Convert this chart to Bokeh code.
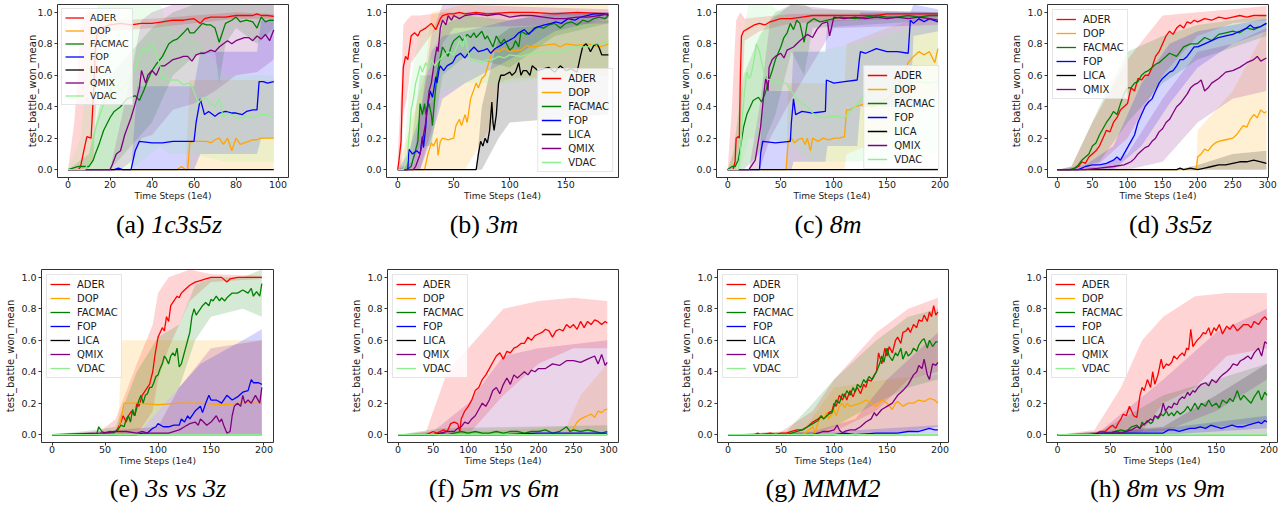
from bokeh.plotting import figure
from bokeh.layouts import row, column
from bokeh.models import Div, FixedTicker, PrintfTickFormatter, Legend, LegendItem, Range1d
from bokeh.embed import file_html
from bokeh.resources import INLINE

NAMES = ["ADER", "DOP", "FACMAC", "FOP", "LICA", "QMIX", "VDAC"]
COLORS = {"ADER": "#ff0000", "DOP": "#ffa500", "FACMAC": "#008000", "FOP": "#0000ff",
          "LICA": "#000000", "QMIX": "#800080", "VDAC": "#90ee90"}
Y_TICKS = [0.0, 0.2, 0.4, 0.6, 0.8, 1.0]
CAP_LETTERS = ["(a)", "(b)", "(c)", "(d)", "(e)", "(f)", "(g)", "(h)"]
CAP_NAMES = ["1c3s5z", "3m", "8m", "3s5z", "3s vs 3z", "5m vs 6m", "MMM2", "8m vs 9m"]

# ---------------- (a) 1c3s5z ----------------
A_ADER_X = [0,5,6,8,9, 11,12,13,14,16, 20,25,30,35,40, 45,50,55,60,63, 65,68,70,75,80, 85,88,90,92,95, 98]
A_ADER_Y = [0,0,0.02,0.15,0.21, 0.2,0.45,0.75,0.88,0.9, 0.92,0.93,0.92,0.93,0.93, 0.94,0.95,0.95,0.96,0.93, 0.96,0.97,0.97,0.97,0.98, 0.98,0.98,0.99,0.98,0.98, 0.975]
A_ADER_BX = [0,3,6,9,12,15,20,40,60,80,98]
A_ADER_LO = [0,0,0,0,0.05,0.82,0.88,0.9,0.93,0.96,0.96]
A_ADER_HI = [0,0.3,0.9,1.0,1.0,0.96,0.95,0.96,0.98,1.0,0.99]
A_DOP_X = [0,52,54,56,57, 58,60,64,66,68, 70,72,74,76,78, 80,82,84,86,88, 90,92,95,98]
A_DOP_Y = [0,0,0.02,0,0, 0.17,0.18,0.18,0.18,0.17, 0.19,0.2,0.16,0.2,0.12, 0.2,0.16,0.17,0.18,0.19, 0.19,0.2,0.2,0.2]
A_DOP_BX = [0,56,58,98]
A_DOP_LO = [0,0,0,0]
A_DOP_HI = [0,0,0.57,0.57]
A_FACMAC_X = [0,5,10,12,13, 15,17,20,22,25, 28,30,32,34,36, 38,40,42,45,48, 50,52,55,57,58, 60,62,64,66,68, 70,72,73,75,78, 80,82,85,88,90, 92,94,96,98]
A_FACMAC_Y = [0,0.02,0.02,0.06,0.1, 0.17,0.25,0.33,0.37,0.4, 0.45,0.46,0.47,0.44,0.5, 0.57,0.63,0.67,0.72,0.8, 0.82,0.83,0.87,0.9,0.87, 0.87,0.9,0.93,0.92,0.92, 0.9,0.81,0.85,0.93,0.95, 0.97,0.94,0.95,0.94,0.9, 0.97,0.94,0.95,0.95]
A_FACMAC_BX = [0,5,10,15,20, 30,40,50,60,70, 72,75,80,90,98]
A_FACMAC_LO = [0,0,0,0,0, 0.15,0.3,0.6,0.72,0.75, 0.55,0.8,0.9,0.8,0.9]
A_FACMAC_HI = [0,0.05,0.1,0.4,0.6, 0.75,0.9,1.0,1.05,1.05, 1.05,1.05,1.05,1.05,1.05]
A_FOP_X = [0,22,24,26,30, 32,34,40,45,50, 55,60,61,63,65, 67,70,72,75,78, 80,83,85,88,90, 91,93,95,98]
A_FOP_Y = [0,0,0.01,0,0, 0.12,0.18,0.17,0.17,0.18, 0.18,0.18,0.3,0.45,0.35, 0.37,0.34,0.36,0.37,0.36, 0.36,0.35,0.37,0.38,0.38, 0.56,0.56,0.55,0.56]
A_FOP_BX = [0,30,33,60,63,90,92,98]
A_FOP_LO = [0,0,0,0,0.1,0.1,0.2,0.2]
A_FOP_HI = [0,0,0.53,0.53,0.75,0.75,0.95,0.95]
A_LICA_X = [0,98]
A_LICA_Y = [0,0]
A_QMIX_X = [0,20,21,23,25, 27,30,32,34,35, 37,38,40,42,44, 46,48,50,53,55, 57,59,61,63,65, 68,70,72,74,76, 78,80,82,84,86, 88,90,92,94,96, 98]
A_QMIX_Y = [0,0,0.03,0.1,0.12, 0.22,0.33,0.42,0.52,0.63, 0.55,0.6,0.63,0.6,0.66, 0.66,0.68,0.7,0.71,0.72, 0.72,0.69,0.73,0.74,0.74, 0.76,0.75,0.78,0.8,0.82, 0.8,0.82,0.83,0.84,0.84, 0.82,0.85,0.83,0.86,0.82, 0.89]
A_QMIX_BX = [0,20,25,30,35, 40,50,60,70,80, 90,98]
A_QMIX_LO = [0,0,0,0.05,0.2, 0.22,0.38,0.42,0.5,0.6, 0.62,0.7]
A_QMIX_HI = [0,0,0.3,0.6,0.95, 1.0,1.05,1.05,1.05,1.05, 1.05,1.05]
A_VDAC_X = [0,8,10,12,14, 16,18,20,22,25, 28,30,32,34,36, 38,40,42,44,45, 48,52,55,58,60, 62,64,66,68,70, 72,74,76,78,80, 83,86,88,90,92, 95,98]
A_VDAC_Y = [0,0,0.05,0.2,0.3, 0.38,0.45,0.5,0.55,0.5, 0.55,0.6,0.65,0.72,0.78, 0.75,0.8,0.74,0.65,0.58, 0.57,0.57,0.54,0.55,0.5, 0.42,0.46,0.45,0.42,0.4, 0.45,0.33,0.36,0.35,0.33, 0.33,0.34,0.33,0.34,0.35, 0.35,0.33]
A_VDAC_BX = [0,6,10,14,30, 44,48,60,75,98]
A_VDAC_LO = [0,0,0,0,0, 0.15,0.1,0.1,0.05,0.05]
A_VDAC_HI = [0,0.2,0.8,1.05,1.05, 1.05,0.9,0.85,0.6,0.6]

# ---------------- (b) 3m ----------------
B_ADER_X = [0,1,3,4,5, 7,9,12,15,18, 20,25,30,34,38, 40,45,50,55,60, 70,80,100,120,140, 160,188]
B_ADER_Y = [0,0.05,0.18,0.45,0.65, 0.72,0.7,0.85,0.87,0.85, 0.88,0.9,0.93,0.89,0.96, 0.98,0.99,0.99,1.0,0.99, 1.0,0.99,1.0,1.0,0.99, 1.0,0.99]
B_ADER_BX = [0,3,5,8,12, 20,30,40,60,188]
B_ADER_LO = [0,0,0.35,0.45,0.68, 0.76,0.86,0.94,0.98,0.98]
B_ADER_HI = [0.1,0.5,0.92,0.95,0.98, 0.98,0.99,1.0,1.0,1.0]
B_DOP_X = [0,24,27,30,32, 35,36,38,40,45, 50,52,55,57,60, 62,65,70,72,75, 78,82,85,90,95, 100,105,110,115,120, 130,140,145,150,160, 170,180,185,188]
B_DOP_Y = [0,0,0.1,0.17,0.15, 0.2,0.09,0.18,0.2,0.19, 0.2,0.28,0.32,0.28,0.35, 0.3,0.45,0.55,0.52,0.58, 0.6,0.7,0.76,0.75,0.77, 0.75,0.76,0.76,0.79,0.78, 0.79,0.8,0.78,0.8,0.79, 0.8,0.78,0.79,0.8]
B_DOP_BX = [0,24,30,60,85, 90,100,188]
B_DOP_LO = [0,0,0,0,0.3, 0.55,0.58,0.6]
B_DOP_HI = [0,0.6,1.0,1.05,1.05, 1.05,1.05,1.05]
B_FACMAC_X = [0,8,12,15,18, 20,22,24,25,28, 30,31,33,35,37, 40,45,48,50,55, 58,62,65,68,70, 75,78,80,85,88, 92,95,100,103,105, 108,110,115,120,125, 130,135,140,145,150, 155,160,165,170,175, 180,185,188]
B_FACMAC_Y = [0,0,0.02,0.1,0.18, 0.42,0.35,0.42,0.35,0.42, 0.35,0.28,0.45,0.6,0.68, 0.78,0.72,0.79,0.82,0.85, 0.82,0.86,0.84,0.87,0.84, 0.88,0.83,0.85,0.78,0.85, 0.8,0.83,0.76,0.78,0.82, 0.78,0.88,0.86,0.88,0.91, 0.9,0.92,0.93,0.9,0.93, 0.94,0.92,0.95,0.94,0.96, 0.97,0.96,0.98]
B_FACMAC_BX = [0,10,20,30,40, 60,100,140,188]
B_FACMAC_LO = [0,0,0.15,0.15,0.6, 0.72,0.65,0.85,0.93]
B_FACMAC_HI = [0,0.05,0.6,0.6,0.92, 0.98,0.95,0.99,1.0]
B_FOP_X = [0,9,10,13,17, 20,22,23,25,26, 29,31,32,34,35, 37,38,41,44,49, 52,56,60,64,68, 72,77,80,83,87, 92,96,99,104,108, 113,117,122,126,131, 137,141,146,152,158, 163,169,175,184,188]
B_FOP_Y = [0,0,0.13,0.1,0.12, 0.1,0.21,0.14,0.27,0.38, 0.5,0.46,0.5,0.59,0.55, 0.64,0.66,0.63,0.66,0.68, 0.72,0.74,0.71,0.75,0.78, 0.75,0.76,0.77,0.74,0.77, 0.79,0.81,0.82,0.84,0.87, 0.89,0.86,0.9,0.91,0.92, 0.93,0.94,0.93,0.96,0.95, 0.97,0.98,0.99,0.99,0.98]
B_FOP_BX = [0,9,20,30,40, 60,100,140,188]
B_FOP_LO = [0,0,0,0.2,0.45, 0.55,0.7,0.88,0.96]
B_FOP_HI = [0,0.1,0.35,0.75,0.85, 0.88,0.95,1.0,1.0]
B_LICA_X = [0,70,72,74,76, 78,80,82,84,85, 86,88,90,92,95, 100,102,105,108,110, 112,115,118,120,125, 130,135,140,145,150, 155,160,163,165,168, 170,172,175,178,180, 182,185,188]
B_LICA_Y = [0,0,0.1,0.18,0.15, 0.2,0.17,0.25,0.43,0.3, 0.25,0.35,0.55,0.6,0.6, 0.62,0.6,0.62,0.68,0.6, 0.63,0.63,0.6,0.66,0.63, 0.64,0.65,0.62,0.66,0.63, 0.64,0.62,0.72,0.78,0.8, 0.78,0.75,0.79,0.8,0.77, 0.73,0.73,0.73]
B_LICA_BX = [0,70,75,90,100,188]
B_LICA_LO = [0,0,0,0.2,0.3,0.35]
B_LICA_HI = [0,0,0.4,0.85,0.9,0.95]
B_QMIX_X = [0,14,16,20,25, 28,30,33,35,36, 38,40,43,45,48, 50,55,60,70,80, 90,100,110,120,130, 140,150,160,170,180, 188]
B_QMIX_Y = [0,0,0.02,0.1,0.3, 0.5,0.55,0.7,0.78,0.75, 0.9,0.95,0.92,0.98,0.95, 0.98,0.96,0.98,0.99,0.98, 0.99,0.97,0.98,0.98,0.97, 0.96,0.96,0.97,0.97,0.98, 0.99]
B_QMIX_BX = [0,14,20,30,40,50,188]
B_QMIX_LO = [0,0,0,0.25,0.8,0.9,0.93]
B_QMIX_HI = [0,0.05,0.35,0.85,1.05,1.05,1.02]
B_VDAC_X = [0,5,8,10,12, 14,16,18,20,22, 25,28,30,33,35, 40,45,50,55,58, 60,63,65,70,75, 80,85,90,95,100, 110,120,130,140,150, 160,170,175,180,185, 188]
B_VDAC_Y = [0,0,0.05,0.2,0.38, 0.45,0.55,0.6,0.66,0.62, 0.68,0.64,0.7,0.66,0.68, 0.72,0.75,0.73,0.82,0.78, 0.85,0.74,0.7,0.69,0.68, 0.7,0.7,0.72,0.71,0.73, 0.72,0.74,0.75,0.74,0.76, 0.78,0.78,0.8,0.8,0.81, 0.82]
B_VDAC_BX = [0,5,10,20,40,60,100,188]
B_VDAC_LO = [0,0,0,0.35,0.5,0.55,0.55,0.65]
B_VDAC_HI = [0,0.05,0.5,0.9,0.95,1.0,0.9,0.95]

# ---------------- (c) 8m ----------------
C_ADER_X = [0,5,7,8,10, 11,12,13,15,20, 25,30,35,40,50, 60,70,80,100,120, 140,150,170,190,198]
C_ADER_Y = [0,0,0.05,0.2,0.21, 0.2,0.6,0.85,0.88,0.9, 0.92,0.93,0.92,0.94,0.96, 0.96,0.97,0.98,0.98,0.98, 0.98,0.99,0.99,0.99,0.99]
C_ADER_BX = [0,4,8,12,16,30,60,198]
C_ADER_LO = [0,0,0,0.2,0.82,0.88,0.93,0.97]
C_ADER_HI = [0,0.4,0.95,1.0,0.96,0.97,0.99,1.0]
C_DOP_X = [0,55,57,60,63, 66,70,73,75,78, 80,85,90,95,100, 105,110,112,115,120, 125,130,135,140,145, 150,155,160,165,170, 175,180,185,190,195, 198]
C_DOP_Y = [0,0,0.18,0.2,0.17, 0.19,0.2,0.16,0.2,0.12, 0.2,0.18,0.2,0.19,0.2, 0.2,0.21,0.38,0.38,0.4, 0.41,0.42,0.4,0.41,0.44, 0.45,0.48,0.52,0.6,0.68, 0.72,0.75,0.73,0.75,0.68, 0.77]
C_DOP_BX = [0,55,57,110,112,150,198]
C_DOP_LO = [0,0,0,0,0.1,0.2,0.5]
C_DOP_HI = [0,0,0.55,0.55,0.8,0.9,1.0]
C_FACMAC_X = [0,4,7,10,12, 15,18,24,29,32, 35,39,42,45,50, 53,56,59,62,65, 68,72,75,81,87, 94,100,106,120,130, 140,150,160,170,180, 190,198]
C_FACMAC_Y = [0,0.02,0.02,0.06,0.14, 0.27,0.35,0.44,0.46,0.43, 0.48,0.57,0.63,0.7,0.78, 0.84,0.87,0.93,0.89,0.95, 0.93,0.81,0.93,0.96,0.94, 0.95,0.96,0.97,0.96,0.97, 0.98,0.97,0.97,0.98,0.97, 0.98,0.98]
C_FACMAC_BX = [0,5,15,30,45, 60,72,80,198]
C_FACMAC_LO = [0,0,0,0.1,0.35, 0.75,0.6,0.9,0.95]
C_FACMAC_HI = [0,0.1,0.6,0.85,1.0, 1.05,1.05,1.02,1.0]
C_FOP_X = [0,30,31,33,45, 59,60,62,64,70, 80,92,93,100,110, 122,124,125,130,140, 145,150,160,170,172, 175,180,185,190,198]
C_FOP_Y = [0,0,0.1,0.18,0.17, 0.18,0.3,0.45,0.35,0.37, 0.36,0.37,0.57,0.55,0.56, 0.57,0.7,0.75,0.74,0.77, 0.76,0.75,0.75,0.74,0.95, 0.93,0.96,0.94,0.96,0.94]
C_FOP_BX = [0,30,33,60,62, 92,94,122,125,172, 175,198]
C_FOP_LO = [0,0,0,0,0.05, 0.05,0.15,0.15,0.4,0.4, 0.85,0.88]
C_FOP_HI = [0,0,0.5,0.5,0.75, 0.75,0.95,0.95,1.0,1.0, 1.05,1.02]
C_LICA_X = [0,198]
C_LICA_Y = [0,0]
C_QMIX_X = [0,20,26,31,34, 36,38,39,42,45, 50,53,56,62,68, 75,80,84,89,94, 96,100,110,120,130, 140,150,160,170,180, 190,198]
C_QMIX_Y = [0,0,0.06,0.27,0.48, 0.59,0.5,0.65,0.7,0.72, 0.74,0.71,0.76,0.78,0.82, 0.86,0.84,0.89,0.93,0.94, 0.85,0.97,0.96,0.97,0.96, 0.97,0.96,0.97,0.96,0.97, 0.96,0.95]
C_QMIX_BX = [0,20,30,40,60,100,198]
C_QMIX_LO = [0,0,0,0.2,0.45,0.9,0.92]
C_QMIX_HI = [0,0,0.4,0.95,1.05,1.02,1.0]
C_VDAC_X = [0,10,12,14,16, 18,20,22,25,27, 30,33,36,40,50, 55,60,65,70,75, 80,85,90,100,110, 115,120,125,130,140, 150,160,170,180,190, 198]
C_VDAC_Y = [0,0,0.1,0.35,0.5, 0.62,0.58,0.6,0.7,0.8, 0.75,0.65,0.58,0.57,0.55, 0.55,0.5,0.45,0.42,0.4, 0.36,0.34,0.33,0.34,0.33, 0.37,0.4,0.44,0.48,0.5, 0.52,0.53,0.55,0.56,0.55, 0.56]
C_VDAC_BX = [0,8,12,20,40, 60,80,120,198]
C_VDAC_LO = [0,0,0,0.2,0.2, 0.15,0.05,0.05,0.1]
C_VDAC_HI = [0,0.2,0.8,1.05,1.05, 0.95,0.75,0.8,0.95]

# ---------------- (d) 3s5z ----------------
D_ADER_X = [0,20,25,30,35, 40,45,50,55,60, 65,70,75,80,85, 90,95,100,105,110, 115,120,125,130,135, 140,145,150,155,160, 165,170,175,180,185, 190,195,200,210,220, 230,240,250,260,270, 280,290,298]
D_ADER_Y = [0,0,0.01,0.02,0.05, 0.04,0.08,0.1,0.12,0.15, 0.2,0.25,0.24,0.3,0.33, 0.38,0.4,0.42,0.52,0.5, 0.58,0.57,0.6,0.6,0.65, 0.72,0.75,0.8,0.85,0.88, 0.86,0.9,0.92,0.9,0.94, 0.93,0.95,0.94,0.96,0.95, 0.97,0.96,0.97,0.98,0.97, 0.98,0.98,0.98]
D_ADER_BX = [0,20,50,100,150,200,250,298]
D_ADER_LO = [0,0,0,0.2,0.6,0.85,0.93,0.95]
D_ADER_HI = [0,0.02,0.3,0.7,0.98,1.0,1.02,1.04]
D_DOP_X = [0,198,200,205,210, 215,220,225,230,240, 250,255,260,265,270, 275,280,285,290,295, 298]
D_DOP_Y = [0,0,0.08,0.1,0.13, 0.12,0.15,0.17,0.18,0.19, 0.2,0.22,0.25,0.28,0.27, 0.32,0.35,0.33,0.38,0.36, 0.37]
D_DOP_BX = [0,198,200,250,298]
D_DOP_LO = [0,0,0,0,0]
D_DOP_HI = [0,0,0.25,0.5,0.9]
D_FACMAC_X = [0,18,25,30,35, 40,45,50,55,60, 65,70,75,80,85, 90,95,100,105,110, 115,120,125,130,135, 140,145,150,160,170, 180,190,200,210,220, 230,240,250,260,270, 280,290,298]
D_FACMAC_Y = [0,0,0.01,0.03,0.06, 0.08,0.1,0.15,0.17,0.22, 0.26,0.3,0.33,0.37,0.35, 0.42,0.48,0.52,0.52,0.55, 0.56,0.6,0.62,0.63,0.65, 0.67,0.68,0.7,0.74,0.72, 0.78,0.8,0.8,0.84,0.82, 0.86,0.87,0.88,0.87,0.9, 0.89,0.91,0.93]
D_FACMAC_BX = [0,20,60,100,150,200,298]
D_FACMAC_LO = [0,0,0.05,0.3,0.55,0.7,0.85]
D_FACMAC_HI = [0,0.02,0.4,0.75,0.85,0.92,0.98]
D_FOP_X = [0,30,35,40,50, 60,70,80,85,90, 95,100,105,110,115, 120,125,130,135,140, 145,150,155,160,165, 170,175,180,185,190, 195,200,210,220,230, 240,250,260,270,275, 280,290,298]
D_FOP_Y = [0,0,0.01,0.02,0.03, 0.03,0.04,0.06,0.08,0.06, 0.1,0.14,0.18,0.22,0.3, 0.35,0.4,0.43,0.45,0.5, 0.55,0.58,0.6,0.62,0.63, 0.66,0.7,0.7,0.72,0.75, 0.78,0.78,0.8,0.82,0.84, 0.85,0.86,0.88,0.9,0.92, 0.9,0.91,0.93]
D_FOP_BX = [0,40,80,120,160,200,250,298]
D_FOP_LO = [0,0,0,0.15,0.42,0.65,0.8,0.88]
D_FOP_HI = [0,0.03,0.15,0.55,0.8,0.88,0.92,0.96]
D_LICA_X = [0,170,175,180,190, 200,210,220,230,240, 250,260,270,280,290, 298]
D_LICA_Y = [0,0,0.01,0,0.01, 0,0.01,0.02,0.03,0.03, 0.04,0.05,0.05,0.06,0.05, 0.04]
D_LICA_BX = [0,170,200,250,298]
D_LICA_LO = [0,0,0,0,0]
D_LICA_HI = [0,0,0.03,0.1,0.12]
D_QMIX_X = [0,40,60,80,95, 100,105,110,115,120, 125,130,135,140,145, 150,155,160,165,170, 175,180,185,190,195, 200,205,210,215,220, 230,240,250,260,270, 280,285,290,298]
D_QMIX_Y = [0,0,0.01,0.02,0.03, 0.04,0.05,0.07,0.1,0.12, 0.14,0.15,0.18,0.2,0.24, 0.26,0.3,0.32,0.36,0.4, 0.42,0.45,0.48,0.52,0.54, 0.55,0.57,0.5,0.52,0.55, 0.58,0.62,0.63,0.65,0.68, 0.7,0.72,0.69,0.71]
D_QMIX_BX = [0,60,100,150,200,250,298]
D_QMIX_LO = [0,0,0,0.05,0.3,0.45,0.5]
D_QMIX_HI = [0,0.02,0.1,0.45,0.75,0.8,0.9]

# ---------------- (e) 3s vs 3z ----------------
E_ADER_X = [0,45,50,55,60, 62,65,67,70,72, 75,78,80,82,85, 88,90,92,95,97, 100,102,104,106,108, 110,112,115,118,120, 122,125,130,135,140, 145,150,160,165,168, 175,198]
E_ADER_Y = [0,0,0.01,0.01,0.02, 0.04,0.08,0.12,0.08,0.12, 0.15,0.12,0.2,0.18,0.25, 0.28,0.3,0.32,0.4,0.5, 0.62,0.65,0.68,0.66,0.75, 0.72,0.82,0.85,0.88,0.87, 0.9,0.92,0.95,0.97,0.98, 0.99,1.0,1.0,0.97,0.99, 1.0,1.0]
E_ADER_BX = [0,45,60,80,95, 100,110,130,150,198]
E_ADER_LO = [0,0,0,0,0.15, 0.35,0.55,0.85,0.97,0.99]
E_ADER_HI = [0,0.02,0.1,0.45,0.7, 0.9,1.0,1.05,1.02,1.01]
E_DOP_X = [0,62,65,67,68, 80,100,120,140,160, 180,198]
E_DOP_Y = [0,0,0.1,0.17,0.2, 0.2,0.19,0.2,0.2,0.19, 0.2,0.2]
E_DOP_BX = [0,62,66,198]
E_DOP_LO = [0,0,0,0]
E_DOP_HI = [0,0,0.6,0.6]
E_FACMAC_X = [0,42,44,47,50, 55,58,60,62,65, 68,70,72,74,76, 78,80,82,84,86, 88,90,92,94,96, 98,100,102,104,106, 108,110,112,114,116, 118,120,122,124,126, 128,130,132,134,136, 138,140,142,145,148, 150,152,155,158,160, 163,165,170,175,180, 185,188,190,193,196, 198]
E_FACMAC_Y = [0,0,0.05,0.02,0.01, 0.02,0.01,0.02,0.03,0.06, 0.05,0.1,0.12,0.08,0.16, 0.12,0.17,0.22,0.25,0.2, 0.25,0.26,0.3,0.3,0.33, 0.37,0.38,0.42,0.45,0.5, 0.48,0.45,0.5,0.52,0.5, 0.55,0.43,0.45,0.5,0.55, 0.6,0.65,0.75,0.8,0.76, 0.78,0.8,0.82,0.84,0.82, 0.86,0.85,0.88,0.85,0.87, 0.85,0.87,0.9,0.9,0.92, 0.9,0.93,0.88,0.91,0.88, 0.96]
E_FACMAC_BX = [0,40,60,80,100, 120,135,150,180,198]
E_FACMAC_LO = [0,0,0,0,0.15, 0.3,0.6,0.75,0.8,0.75]
E_FACMAC_HI = [0,0.03,0.05,0.4,0.62, 0.7,0.95,1.0,1.0,1.05]
E_FOP_X = [0,80,85,90,95, 98,100,105,110,115, 120,122,125,128,130, 135,140,142,145,148, 150,155,160,165,170, 175,180,185,188,190, 195,198]
E_FOP_Y = [0,0,0.01,0.01,0.04, 0.05,0.07,0.05,0.05,0.06, 0.06,0.1,0.08,0.12,0.1, 0.15,0.18,0.14,0.2,0.25, 0.22,0.22,0.2,0.25,0.22, 0.24,0.27,0.28,0.35,0.33, 0.33,0.32]
E_FOP_BX = [0,80,100,140,180,198]
E_FOP_LO = [0,0,0,0,0,0]
E_FOP_HI = [0,0,0.15,0.45,0.6,0.67]
E_LICA_X = [0,198]
E_LICA_Y = [0,0]
E_QMIX_X = [0,45,60,70,80, 85,90,100,110,120, 125,130,135,138,140, 143,146,150,155,158, 160,162,165,168,170, 172,175,178,180,182, 185,188,192,196,198]
E_QMIX_Y = [0,0.01,0.02,0.02,0.01, 0.02,0.01,0.01,0.01,0.03, 0.05,0.07,0.08,0.06,0.1, 0.08,0.06,0.08,0.12,0.08, 0.1,0.06,0.01,0.02,0.12, 0.18,0.2,0.18,0.25,0.2, 0.22,0.2,0.25,0.2,0.3]
E_QMIX_BX = [0,100,120,150,198]
E_QMIX_LO = [0,0,0,0,0]
E_QMIX_HI = [0,0.05,0.3,0.55,0.6]
E_VDAC_X = [0,198]
E_VDAC_Y = [0,0]

# ---------------- (f) 5m vs 6m ----------------
F_ADER_X = [0,40,45,50,55, 60,65,70,75,80, 85,88,90,95,100, 105,110,115,120,125, 130,135,140,145,150, 155,160,165,170,175, 180,185,190,195,200, 205,210,215,220,225, 230,235,240,245,250, 255,260,265,270,275, 280,285,290,295,298]
F_ADER_Y = [0,0,0.01,0.02,0.01, 0.02,0.03,0.02,0.07,0.08, 0.07,0.02,0.1,0.15,0.18, 0.22,0.28,0.3,0.35,0.38, 0.42,0.46,0.5,0.52,0.48, 0.53,0.52,0.55,0.56,0.58, 0.58,0.62,0.6,0.63,0.64, 0.65,0.67,0.66,0.62,0.66, 0.67,0.66,0.7,0.68,0.7, 0.67,0.72,0.68,0.72,0.7, 0.73,0.72,0.7,0.72,0.71]
F_ADER_BX = [0,40,70,100,150,200,250,298]
F_ADER_LO = [0,0,0,0,0.25,0.45,0.55,0.55]
F_ADER_HI = [0,0.02,0.4,0.55,0.8,0.85,0.87,0.85]
F_DOP_X = [0,240,245,250,255, 260,265,270,275,280, 285,290,295,298]
F_DOP_Y = [0,0,0.02,0.04,0.08, 0.1,0.11,0.12,0.13,0.11, 0.15,0.14,0.16,0.16]
F_DOP_BX = [0,240,260,298]
F_DOP_LO = [0,0,0,0]
F_DOP_HI = [0,0.05,0.25,0.45]
F_FACMAC_X = [0,55,60,70,80, 90,100,110,120,130, 140,150,160,170,180, 190,200,210,220,230, 240,245,250,260,270, 280,290,298]
F_FACMAC_Y = [0,0,0.01,0.0,0.01, 0.02,0.01,0.02,0.01,0.01, 0.02,0.01,0.02,0.02,0.01, 0.02,0.02,0.03,0.01,0.02, 0.05,0.02,0.03,0.02,0.03, 0.02,0.01,0.02]
F_FACMAC_BX = [0,60,298]
F_FACMAC_LO = [0,0,0]
F_FACMAC_HI = [0,0.04,0.06]
F_FOP_X = [0,100,150,200,250,298]
F_FOP_Y = [0,0,0,0.01,0.01,0.01]
F_LICA_X = [0,298]
F_LICA_Y = [0,0]
F_QMIX_X = [0,50,60,70,80, 85,90,95,100,105, 110,115,120,125,130, 135,140,145,150,155, 160,165,170,175,180, 185,190,195,200,210, 220,230,240,250,260, 270,280,285,290,295, 298]
F_QMIX_Y = [0,0,0.01,0.02,0.02, 0.04,0.05,0.08,0.07,0.1, 0.12,0.16,0.2,0.18,0.22, 0.28,0.3,0.26,0.32,0.36, 0.32,0.38,0.36,0.38,0.4, 0.38,0.41,0.4,0.42,0.42, 0.45,0.44,0.47,0.47,0.46, 0.48,0.5,0.45,0.51,0.44, 0.46]
F_QMIX_BX = [0,50,100,150,200,298]
F_QMIX_LO = [0,0,0,0,0,0]
F_QMIX_HI = [0,0.02,0.2,0.5,0.55,0.6]
F_VDAC_X = [0,298]
F_VDAC_Y = [0,0]

# ---------------- (g) MMM2 ----------------
G_ADER_X = [0,25,28,30,40, 45,50,55,60,65, 70,75,80,85,88, 90,95,98,100,102, 105,108,110,112,115, 118,120,122,125,128, 130,132,135,138,140, 142,145,148,150,152, 155,158,160,163,165, 168,170,172,175,178, 180,183,185,188,190, 192,194,196,198]
G_ADER_Y = [0,0,0.01,0,0.01, 0,0.01,0.01,0.02,0.03, 0.03,0.05,0.08,0.1,0.12, 0.1,0.14,0.15,0.2,0.18, 0.25,0.22,0.26,0.22,0.28, 0.24,0.28,0.3,0.26,0.32, 0.3,0.35,0.34,0.38,0.4, 0.52,0.45,0.55,0.5,0.56, 0.52,0.6,0.62,0.58,0.65, 0.66,0.68,0.65,0.7,0.68, 0.73,0.72,0.76,0.72,0.78, 0.75,0.82,0.76,0.78]
G_ADER_BX = [0,50,80,100,140,170,198]
G_ADER_LO = [0,0,0,0.02,0.15,0.35,0.4]
G_ADER_HI = [0,0.02,0.15,0.35,0.65,0.8,0.87]
G_DOP_X = [0,70,75,80,82, 85,88,90,93,95, 98,100,102,105,108, 110,112,115,120,125, 130,135,140,145,150, 155,158,160,165,170, 175,180,185,190,195, 198]
G_DOP_Y = [0,0,0.02,0.05,0.01, 0.08,0.12,0.1,0.14,0.1, 0.13,0.16,0.12,0.18,0.2, 0.17,0.2,0.18,0.19,0.2, 0.22,0.2,0.18,0.22,0.2, 0.16,0.2,0.21,0.18,0.2, 0.2,0.22,0.21,0.23,0.22, 0.2]
G_DOP_BX = [0,70,100,150,198]
G_DOP_LO = [0,0,0,0,0.05]
G_DOP_HI = [0,0.02,0.3,0.35,0.38]
G_FACMAC_X = [0,55,60,65,70, 75,80,85,88,90, 95,98,100,102,105, 108,110,112,115,118, 120,122,125,128,130, 133,136,140,143,145, 147,150,152,155,158, 160,163,165,168,170, 173,175,178,180,183, 185,188,190,193,196, 198]
G_FACMAC_Y = [0,0,0.01,0.02,0.03, 0.05,0.07,0.09,0.12,0.1, 0.13,0.14,0.18,0.22,0.2, 0.26,0.24,0.28,0.25,0.3, 0.27,0.32,0.3,0.35,0.33, 0.37,0.35,0.4,0.45,0.5, 0.46,0.55,0.5,0.47,0.52, 0.5,0.55,0.48,0.53,0.5, 0.52,0.55,0.53,0.57,0.6, 0.61,0.55,0.6,0.56,0.59, 0.59]
G_FACMAC_BX = [0,55,80,100,140,170,198]
G_FACMAC_LO = [0,0,0,0.05,0.2,0.3,0.35]
G_FACMAC_HI = [0,0.02,0.2,0.35,0.6,0.75,0.8]
G_FOP_X = [0,100,110,120,140, 160,170,180,185,190, 195,198]
G_FOP_Y = [0,0,0.01,0,0.01, 0.01,0.02,0.02,0.03,0.04, 0.03,0.03]
G_FOP_BX = [0,100,198]
G_FOP_LO = [0,0,0]
G_FOP_HI = [0,0.02,0.06]
G_LICA_X = [0,198]
G_LICA_Y = [0,0]
G_QMIX_X = [0,80,85,90,95, 100,103,105,108,110, 115,120,125,130,135, 138,140,145,150,155, 160,165,170,175,178, 180,183,185,188,190, 193,196,198]
G_QMIX_Y = [0,0,0.01,0.02,0.02, 0.03,0.06,0.03,0.01,0.02, 0.03,0.03,0.05,0.08,0.1, 0.14,0.12,0.16,0.18,0.2, 0.25,0.28,0.32,0.38,0.4, 0.44,0.42,0.48,0.38,0.35, 0.45,0.44,0.46]
G_QMIX_BX = [0,80,120,150,198]
G_QMIX_LO = [0,0,0,0,0.05]
G_QMIX_HI = [0,0.02,0.1,0.35,0.65]
G_VDAC_X = [0,198]
G_VDAC_Y = [0,0]

# ---------------- (h) 8m vs 9m ----------------
H_ADER_X = [0,35,40,45,50, 52,55,58,60,62, 65,68,70,72,75, 78,80,82,85,88, 90,92,95,98,100, 103,105,108,110,113, 115,118,120,122,124, 126,128,130,132,135, 138,140,143,145,148, 150,153,156,160,163, 166,170,173,176,180, 183,186,190,193,196, 198]
H_ADER_Y = [0,0,0.02,0.02,0.05, 0.06,0.04,0.08,0.1,0.13, 0.12,0.18,0.15,0.12,0.11, 0.25,0.3,0.28,0.35,0.3, 0.4,0.32,0.38,0.48,0.42, 0.45,0.44,0.46,0.5,0.48, 0.5,0.52,0.5,0.55,0.54, 0.67,0.56,0.58,0.6,0.62, 0.65,0.64,0.68,0.63,0.68, 0.66,0.7,0.64,0.69,0.67, 0.7,0.66,0.68,0.7,0.7, 0.68,0.72,0.7,0.73,0.75, 0.73]
H_ADER_BX = [0,35,60,80,100,130,160,198]
H_ADER_LO = [0,0,0,0.02,0.2,0.3,0.5,0.55]
H_ADER_HI = [0,0.03,0.3,0.6,0.75,0.88,0.9,0.9]
H_DOP_X = [0,198]
H_DOP_Y = [0,0]
H_FACMAC_X = [0,40,45,50,55, 60,65,70,75,78, 80,82,85,88,90, 92,95,98,100,103, 105,108,110,113,116, 120,123,126,130,133, 136,140,143,146,150, 153,156,160,163,166, 170,173,176,180,183, 186,190,193,196,198]
H_FACMAC_Y = [0,0,0.01,0.01,0.02, 0.03,0.02,0.05,0.06,0.04, 0.08,0.06,0.09,0.07,0.08, 0.12,0.1,0.13,0.12,0.15, 0.12,0.14,0.12,0.15,0.13, 0.15,0.18,0.15,0.2,0.16, 0.2,0.18,0.22,0.18,0.2, 0.17,0.22,0.2,0.23,0.21, 0.28,0.22,0.25,0.22,0.2, 0.24,0.28,0.22,0.27,0.25]
H_FACMAC_BX = [0,40,100,150,198]
H_FACMAC_LO = [0,0,0.02,0.05,0.08]
H_FACMAC_HI = [0,0.02,0.25,0.35,0.45]
H_FOP_X = [0,30,40,50,60, 70,80,90,100,105, 110,115,120,125,130, 135,140,145,150,155, 160,165,170,175,180, 185,190,193,196,198]
H_FOP_Y = [0,0,0.01,0.01,0.01, 0.01,0.01,0.01,0.01,0.03, 0.03,0.02,0.03,0.04,0.04, 0.05,0.04,0.06,0.05,0.04, 0.05,0.06,0.05,0.05,0.06, 0.07,0.08,0.07,0.09,0.08]
H_FOP_BX = [0,30,100,150,198]
H_FOP_LO = [0,0,0,0.02,0.04]
H_FOP_HI = [0,0.01,0.04,0.08,0.12]
H_LICA_X = [0,198]
H_LICA_Y = [0,0]
H_LICA_BX = [0,100,150,198]
H_LICA_LO = [0,0,0,0]
H_LICA_HI = [0,0.05,0.25,0.45]
H_QMIX_X = [0,40,45,50,55, 60,65,70,75,78, 80,85,88,90,92, 95,98,100,102,105, 108,110,113,115,118, 120,123,125,128,130, 133,136,140,143,146, 150,153,156,160,163, 166,170,173,176,180, 183,186,190,193,196, 198]
H_QMIX_Y = [0,0,0.01,0.01,0.02, 0.01,0.02,0.03,0.05,0.04, 0.06,0.08,0.1,0.09,0.12, 0.11,0.14,0.2,0.15,0.18, 0.17,0.2,0.19,0.22,0.24, 0.23,0.27,0.25,0.28,0.27, 0.3,0.32,0.33,0.31,0.35, 0.33,0.36,0.38,0.4,0.42, 0.45,0.44,0.47,0.48,0.5, 0.48,0.52,0.55,0.5,0.59, 0.58]
H_QMIX_BX = [0,40,100,150,198]
H_QMIX_LO = [0,0,0.02,0.15,0.35]
H_QMIX_HI = [0,0.02,0.35,0.65,0.8]
H_VDAC_X = [0,198]
H_VDAC_Y = [0,0]

G = globals()
TXT = "#1a1a1a"


def build(key, xr, xticks, series, loc, lmargin, W, bl, br, bt, bb, small, ylab_off):
    H = bt + 173 + bb
    p = figure(width=W, height=H, x_range=Range1d(*xr), y_range=Range1d(-0.05, 1.05),
               min_border_left=bl, min_border_right=br, min_border_top=bt, min_border_bottom=bb,
               output_backend="svg", toolbar_location=None, title=None)
    p.background_fill_color = "white"
    p.border_fill_color = "white"
    p.grid.visible = False
    p.outline_line_color = "#333333"
    p.outline_line_width = 1
    for name in series:
        bx = G.get(f"{key}_{name}_BX")
        if bx is not None:
            lo = G[f"{key}_{name}_LO"]
            hi = G[f"{key}_{name}_HI"]
            n = min(len(bx), len(lo), len(hi))
            p.varea(x=bx[:n], y1=lo[:n], y2=hi[:n], fill_color=COLORS[name], fill_alpha=0.17)
    items = []
    for name in series:
        xs = G[f"{key}_{name}_X"]
        ys = G[f"{key}_{name}_Y"]
        n = min(len(xs), len(ys))
        r = p.line(xs[:n], ys[:n], line_color=COLORS[name], line_width=1.3)
        items.append(LegendItem(label=name, renderers=[r]))
    leg = Legend(items=items, location=loc, margin=lmargin,
                 label_text_font="DejaVu Sans",
                 label_text_font_size="9.5px" if small else "10px",
                 label_text_color=TXT,
                 label_height=11 if small else 12, glyph_height=11 if small else 12,
                 glyph_width=19 if small else 20, label_standoff=6 if small else 7,
                 spacing=2, padding=3,
                 border_line_color="#cccccc", border_line_width=1,
                 background_fill_color="white", background_fill_alpha=0.8)
    p.add_layout(leg)
    p.xaxis.ticker = FixedTicker(ticks=xticks)
    p.yaxis.ticker = FixedTicker(ticks=Y_TICKS)
    p.yaxis.formatter = PrintfTickFormatter(format="%.1f")
    p.xaxis.axis_label = "Time Steps (1e4)"
    p.yaxis.axis_label = "test_battle_won_mean"
    for ax in (p.xaxis[0], p.yaxis[0]):
        ax.axis_line_color = None
        ax.major_tick_line_color = "#333333"
        ax.major_tick_out = 3
        ax.major_tick_in = 0
        ax.minor_tick_line_color = None
        ax.major_label_text_font = "DejaVu Sans"
        ax.major_label_text_font_size = "9.5px"
        ax.major_label_text_color = TXT
        ax.axis_label_text_font = "DejaVu Sans"
        ax.axis_label_text_font_style = "normal"
        ax.axis_label_text_color = TXT
    p.xaxis.major_label_standoff = 0
    p.xaxis.axis_label_standoff = 0
    p.xaxis.axis_label_text_font_size = "9px"
    p.yaxis.major_label_standoff = 2
    p.yaxis.axis_label_standoff = ylab_off
    p.yaxis.axis_label_text_font_size = "10px"
    return p


def caption(i, w, h, off):
    html = ('<div style="width:%dpx;height:%dpx;line-height:%dpx;text-align:center;'
            'padding-left:%dpx;box-sizing:border-box;font-family:\'Liberation Serif\',serif;'
            'font-size:26px;color:#000;white-space:nowrap">%s <i>%s</i></div>'
            % (w, h, h, 2 * off, CAP_LETTERS[i], CAP_NAMES[i]))
    return Div(text=html, width=w, height=h, margin=0)


ALL7 = NAMES
NO_VDAC = NAMES[:6]
X100 = [0, 20, 40, 60, 80, 100]
X150 = [0, 50, 100, 150]
X200 = [0, 50, 100, 150, 200]
X300 = [0, 50, 100, 150, 200, 250, 300]

pa = build("A", (-5, 105), X100, ALL7, "top_left", 4, 322, 57, 34, 4, 34, True, -4)
pb = build("B", (-10, 197), X150, ALL7, "bottom_right", 5, 320, 64, 24, 4, 34, False, 2)
pc = build("C", (-10.5, 207), X200, ALL7, "bottom_right", 8, 320, 74, 15, 4, 34, False, 2)
pd = build("D", (-14, 301), X300, NO_VDAC, "top_left", 5, 317, 85, 11, 4, 34, False, 2)
pe = build("E", (-10, 209), X200, ALL7, "top_left", 5, 322, 41, 49, 30, 30, False, 2)
pf = build("F", (-15, 314), X300, ALL7, "top_left", 5, 320, 65, 24, 30, 30, False, 2)
pg = build("G", (-10, 208), X200, ALL7, "top_left", 5, 320, 75, 14, 30, 30, False, 2)
ph = build("H", (-10.4, 208), X200, ALL7, "top_left", 5, 317, 84, 2, 30, 30, False, 2)

caps_top = row(caption(0, 322, 28, 8), caption(1, 320, 28, 2), caption(2, 320, 28, 26),
               caption(3, 317, 28, 50), spacing=0)
caps_bot = row(caption(4, 322, 34, 7), caption(5, 320, 34, 12), caption(6, 320, 34, 21),
               caption(7, 317, 34, 37), spacing=0)

layout = column(row(pa, pb, pc, pd, spacing=0), caps_top,
                row(pe, pf, pg, ph, spacing=0), caps_bot,
                spacing=0)

open("out.html", "w").write(file_html(layout, INLINE))
